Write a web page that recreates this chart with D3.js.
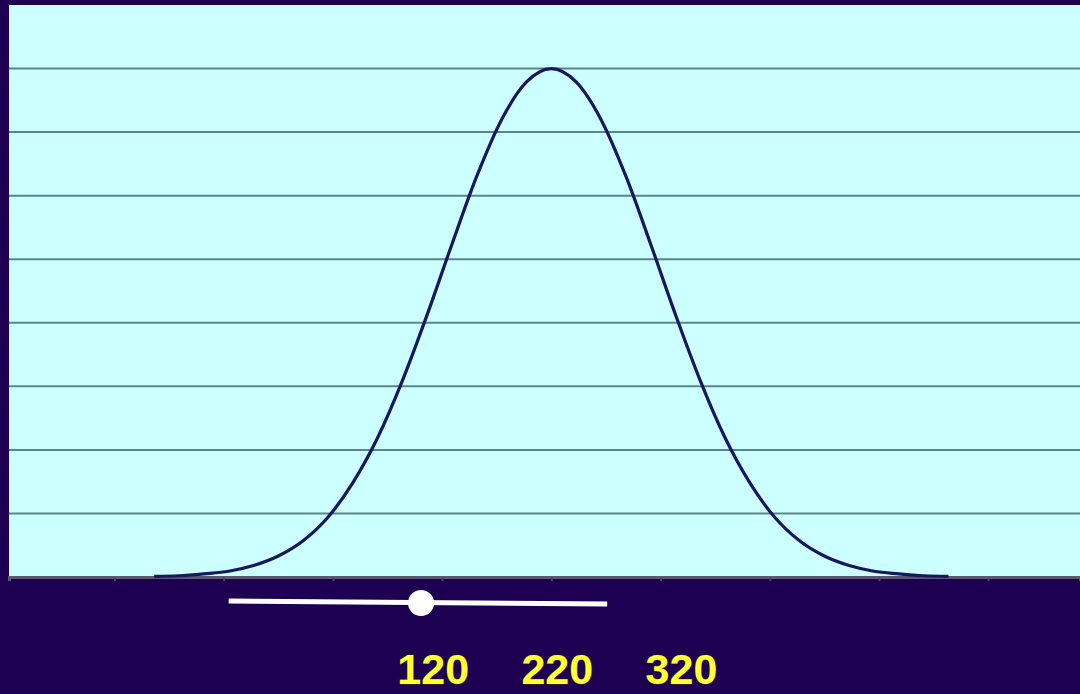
<!DOCTYPE html>
<html>
<head>
<meta charset="utf-8">
<script src="https://cdn.jsdelivr.net/npm/d3@7"></script>
<style>
  html, body { margin: 0; padding: 0; background: #1e0052; }
  svg { display: block; }
</style>
</head>
<body>
<svg id="chart" width="1080" height="694"></svg>
<script>
// Curve points (x in data units, y in grid units)
const xValues = [-100, -80, -60, -40, -20, 0, 20, 40, 60, 80, 100, 120, 140, 160, 180, 200,
                 220, 240, 260, 280, 300, 320, 340, 360, 380, 400, 420, 440, 460, 480, 500, 520, 540];
const yValues = [0.01, 0.02, 0.05, 0.09, 0.18, 0.33, 0.57, 0.94, 1.48, 2.19, 3.09, 4.13, 5.24, 6.31, 7.20, 7.79,
                 8.00, 7.79, 7.20, 6.31, 5.24, 4.13, 3.09, 2.19, 1.48, 0.94, 0.57, 0.33, 0.18, 0.09, 0.05, 0.02, 0.01];
const gridValues = [1, 2, 3, 4, 5, 6, 7, 8];
const tickValues = [-132, -44, 44, 132, 220, 308, 396, 484, 572];
const labelValues = [120, 220, 320];
const rangeLine = [-40, 265];
const pointValue = 115;

const svg = d3.select("#chart");
const W = 1080, H = 694;
const mLeft = 9, mRight = 1080, mTop = 5, mBottom = 577;

const x = d3.scaleLinear().domain([-217, 646]).range([mLeft, mRight]);
const y = d3.scaleLinear().domain([0, 9]).range([mBottom, mTop]);

svg.append("rect").attr("width", W).attr("height", H).attr("fill", "#1e0052");
svg.append("rect").attr("x", mLeft).attr("y", mTop)
  .attr("width", mRight - mLeft).attr("height", mBottom - mTop)
  .attr("fill", "#ccffff");

// Gridlines
svg.append("g").selectAll("line").data(gridValues).join("line")
  .attr("x1", mLeft).attr("x2", mRight)
  .attr("y1", d => y(d)).attr("y2", d => y(d))
  .attr("stroke", "#5d8585").attr("stroke-width", 2);

// Bottom axis
const axis = d3.axisBottom(x).tickValues(tickValues).tickSize(4).tickFormat("");
const gAxis = svg.append("g").attr("transform", `translate(0,${mBottom})`).call(axis);
gAxis.select(".domain").attr("stroke", "#5a5a6e").attr("stroke-width", 3);
gAxis.selectAll(".tick line").attr("stroke", "#4a4a66").attr("stroke-width", 2);

// Curve
const pts = xValues.map((v, i) => [v, yValues[i]]);
const line = d3.line().x(d => x(d[0])).y(d => y(d[1])).curve(d3.curveMonotoneX);
svg.append("path").datum(pts).attr("d", line)
  .attr("fill", "none").attr("stroke", "#17175e").attr("stroke-width", 3.2);

// White range line with point
svg.append("line")
  .attr("x1", x(rangeLine[0])).attr("x2", x(rangeLine[1]))
  .attr("y1", 601).attr("y2", 604)
  .attr("stroke", "#ffffff").attr("stroke-width", 5);
svg.append("circle").attr("cx", x(pointValue)).attr("cy", 603).attr("r", 13)
  .attr("fill", "#ffffff");

// Labels
svg.append("g").selectAll("text").data(labelValues).join("text")
  .attr("x", d => x(d) + 6).attr("y", 684)
  .attr("text-anchor", "middle")
  .attr("font-family", "Liberation Sans, Arial, sans-serif")
  .attr("font-weight", "bold").attr("font-size", 43)
  .attr("fill", "#ffff33")
  .attr("stroke", "#3a2a10").attr("stroke-width", 1)
  .attr("paint-order", "stroke")
  .text(d => d);
</script>
</body>
</html>
